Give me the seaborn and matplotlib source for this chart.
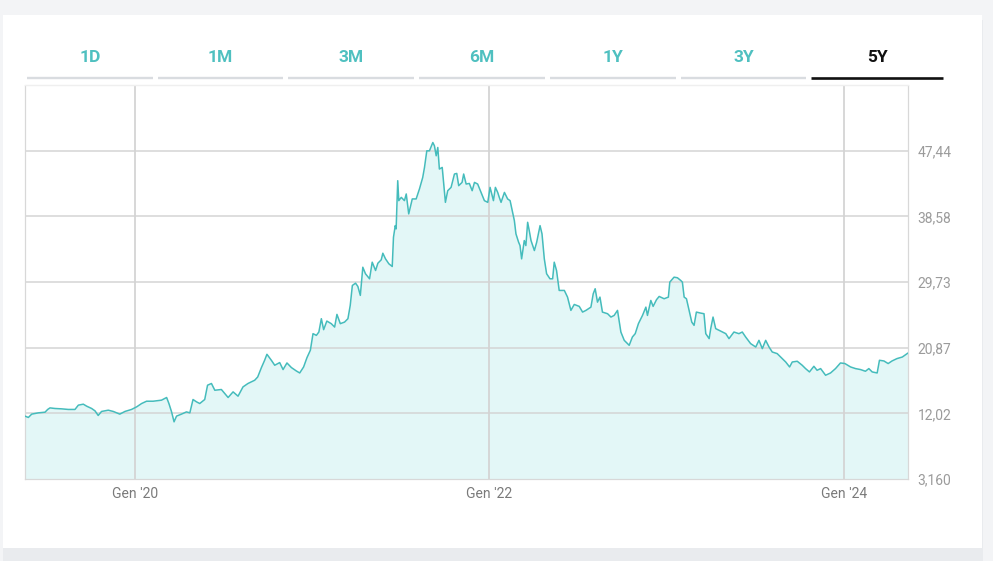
import numpy as np
import pandas as pd
import matplotlib
matplotlib.use("Agg")
import matplotlib.pyplot as plt
import seaborn as sns
from matplotlib.patches import Rectangle
from matplotlib.lines import Line2D

# ---------------- data (decimal years, price) ----------------
years = [
    2019.380, 2019.399, 2019.418, 2019.455, 2019.493, 2019.508, 2019.521, 2019.549, 2019.587, 2019.624,
    2019.662, 2019.681, 2019.709, 2019.728, 2019.756, 2019.775, 2019.793, 2019.812, 2019.850, 2019.878,
    2019.915, 2019.944, 2019.981, 2020.010, 2020.038, 2020.066, 2020.103, 2020.150, 2020.179, 2020.192,
    2020.207, 2020.221, 2020.235, 2020.263, 2020.291, 2020.310, 2020.328, 2020.348, 2020.366, 2020.394,
    2020.410, 2020.432, 2020.451, 2020.488, 2020.526, 2020.554, 2020.582, 2020.610, 2020.638, 2020.676,
    2020.693, 2020.714, 2020.732, 2020.745, 2020.770, 2020.789, 2020.817, 2020.836, 2020.858, 2020.883,
    2020.911, 2020.930, 2020.952, 2020.971, 2020.990, 2021.005, 2021.024, 2021.038, 2021.052, 2021.065,
    2021.083, 2021.108, 2021.127, 2021.140, 2021.159, 2021.183, 2021.202, 2021.215, 2021.227, 2021.245,
    2021.258, 2021.272, 2021.286, 2021.301, 2021.324, 2021.339, 2021.358, 2021.371, 2021.390, 2021.399,
    2021.414, 2021.433, 2021.452, 2021.459, 2021.469, 2021.474, 2021.483, 2021.489, 2021.503, 2021.521,
    2021.531, 2021.545, 2021.565, 2021.587, 2021.606, 2021.624, 2021.634, 2021.647, 2021.662, 2021.681,
    2021.690, 2021.700, 2021.709, 2021.718, 2021.734, 2021.741, 2021.752, 2021.765, 2021.784, 2021.803,
    2021.816, 2021.827, 2021.846, 2021.855, 2021.869, 2021.887, 2021.903, 2021.916, 2021.934, 2021.953,
    2021.972, 2021.991, 2022.004, 2022.023, 2022.034, 2022.047, 2022.056, 2022.066, 2022.085, 2022.103,
    2022.117, 2022.131, 2022.141, 2022.150, 2022.165, 2022.173, 2022.182, 2022.197, 2022.206, 2022.216,
    2022.225, 2022.235, 2022.254, 2022.267, 2022.286, 2022.297, 2022.310, 2022.323, 2022.342, 2022.357,
    2022.366, 2022.379, 2022.394, 2022.423, 2022.441, 2022.460, 2022.479, 2022.507, 2022.526, 2022.545,
    2022.573, 2022.586, 2022.597, 2022.610, 2022.624, 2022.638, 2022.667, 2022.686, 2022.704, 2022.723,
    2022.732, 2022.742, 2022.761, 2022.789, 2022.807, 2022.823, 2022.841, 2022.864, 2022.883, 2022.892,
    2022.911, 2022.924, 2022.943, 2022.958, 2022.986, 2023.010, 2023.018, 2023.042, 2023.061, 2023.080,
    2023.089, 2023.099, 2023.112, 2023.127, 2023.142, 2023.155, 2023.168, 2023.193, 2023.211, 2023.221,
    2023.240, 2023.249, 2023.262, 2023.277, 2023.296, 2023.315, 2023.334, 2023.352, 2023.380, 2023.408,
    2023.427, 2023.446, 2023.474, 2023.503, 2023.521, 2023.540, 2023.559, 2023.578, 2023.596, 2023.624,
    2023.652, 2023.672, 2023.694, 2023.709, 2023.737, 2023.765, 2023.784, 2023.806, 2023.831, 2023.849,
    2023.869, 2023.897, 2023.925, 2023.953, 2023.981, 2024.006, 2024.038, 2024.066, 2024.094, 2024.122,
    2024.141, 2024.160, 2024.188, 2024.201, 2024.226, 2024.250, 2024.272, 2024.300, 2024.330, 2024.362,
]
prices = [
    11.64, 11.46, 11.91, 12.08, 12.17, 12.54, 12.75, 12.67, 12.62, 12.54,
    12.54, 13.12, 13.25, 12.98, 12.67, 12.35, 11.73, 12.27, 12.44, 12.27,
    11.91, 12.27, 12.54, 12.89, 13.34, 13.65, 13.65, 13.79, 14.15, 13.34,
    12.21, 10.87, 11.64, 11.91, 12.21, 12.08, 13.88, 13.56, 13.34, 13.88,
    15.81, 16.04, 15.13, 15.23, 14.15, 14.91, 14.33, 15.58, 16.04, 16.48,
    16.92, 18.19, 19.17, 19.98, 19.17, 18.50, 18.86, 17.92, 18.81, 18.19,
    17.73, 17.46, 18.27, 19.53, 20.52, 22.76, 22.53, 22.98, 24.78, 23.30,
    24.46, 24.11, 23.65, 25.36, 24.11, 24.32, 24.78, 26.57, 29.26, 29.57,
    29.13, 27.92, 31.72, 30.84, 30.16, 32.40, 31.28, 32.26, 32.72, 33.61,
    32.85, 32.18, 31.82, 35.76, 37.33, 36.89, 43.39, 40.70, 41.14, 40.70,
    41.60, 38.91, 40.93, 40.93, 42.31, 43.83, 45.18, 47.42, 47.42, 48.54,
    48.10, 46.75, 47.87, 44.96, 45.18, 43.39, 40.47, 42.04, 42.49, 44.29,
    44.37, 42.72, 43.16, 44.29, 42.94, 43.02, 42.04, 43.16, 42.94, 41.81,
    40.70, 40.47, 42.49, 40.70, 42.49, 41.81, 41.14, 40.47, 41.81, 40.93,
    40.70, 39.12, 38.01, 36.22, 35.09, 34.64, 32.85, 35.32, 34.64, 37.78,
    36.66, 35.32, 33.97, 35.09, 37.33, 36.22, 32.85, 30.84, 30.16, 30.16,
    32.40, 31.28, 28.59, 28.59, 27.69, 25.90, 26.70, 26.44, 25.67, 25.90,
    26.34, 28.14, 28.82, 27.01, 27.69, 25.67, 25.45, 25.00, 25.22, 25.90,
    24.55, 22.98, 21.86, 21.19, 22.31, 22.76, 24.11, 25.22, 26.34, 25.22,
    27.24, 26.44, 27.34, 27.78, 27.47, 27.69, 29.71, 30.38, 30.30, 29.93,
    29.71, 27.69, 27.47, 25.90, 24.32, 23.88, 25.67, 25.53, 25.45, 22.76,
    22.09, 23.44, 25.00, 23.44, 23.21, 22.98, 22.76, 22.09, 22.98, 22.76,
    22.98, 22.31, 21.42, 20.96, 21.86, 20.74, 21.86, 20.96, 20.29, 20.07,
    19.40, 18.94, 18.27, 18.94, 19.04, 18.50, 18.05, 17.60, 18.36, 17.82,
    18.05, 17.15, 17.46, 18.05, 18.81, 18.73, 18.27, 18.05, 17.92, 17.69,
    18.05, 17.60, 17.46, 19.17, 19.08, 18.73, 19.08, 19.40, 19.61, 20.15,
]
tab_labels = ["1D", "1M", "3M", "6M", "1Y", "3Y", "5Y"]
active_tab = "5Y"
y_ticks = [3.160, 12.02, 20.87, 29.73, 38.58, 47.44]
y_tick_labels = ["3,160", "12,02", "20,87", "29,73", "38,58", "47,44"]
x_ticks = [2020, 2022, 2024]
x_tick_labels = ["Gen '20", "Gen '22", "Gen '24"]

# ---------------- style ----------------
LINE = "#45bcbc"
FILL = "#e3f7f7"
TEAL_TXT = "#4fc0c0"
GRID = "#d4d4d4"

sns.set_style("white")
plt.rcParams['font.family'] = ['Roboto', 'DejaVu Sans']

W, H = 993, 561
fig = plt.figure(figsize=(W / 100, H / 100), dpi=100, facecolor="#f3f4f6")


def fx(x):
    return x / W


def fy(y):
    return 1 - y / H


# card shadow + card (behind the axes)
fig.patches.append(Rectangle((fx(3), fy(561)), fx(980), (561 - 20) / H,
                             transform=fig.transFigure, facecolor="#e9ebee",
                             edgecolor="none", zorder=-3))
fig.patches.append(Rectangle((fx(3), fy(548)), fx(979), (548 - 15) / H,
                             transform=fig.transFigure, facecolor="white",
                             edgecolor="none", zorder=-2))

# tabs
tab_left = [27, 158, 288, 419, 550, 681, 811]
tab_right = [153, 283, 414, 545, 676, 806, 943]
for lab, l, r in zip(tab_labels, tab_left, tab_right):
    active = lab == active_tab
    fig.add_artist(Line2D([fx(l), fx(r)], [fy(77.8), fy(77.8)], transform=fig.transFigure,
                          color="#111111" if active else "#d9dce0",
                          lw=1.9 if active else 1.7, solid_capstyle="butt"))
    fig.text(fx((l + r) / 2), fy(57), lab, ha="center", va="center",
             fontsize=12.5, fontweight="bold",
             color="#111111" if active else TEAL_TXT)

# plot
ax = fig.add_axes([fx(25), fy(479), (908 - 25) / W, (479 - 85) / H])
ax.set_facecolor("none")
df = pd.DataFrame({"year": years, "price": prices})
ymin, ymax = 3.16, 3.16 + 6 * 8.856
ax.fill_between(df["year"], df["price"], ymin, color=FILL, linewidth=0, zorder=1)
sns.lineplot(data=df, x="year", y="price", ax=ax, color=LINE, linewidth=1.1, zorder=3)

ax.set_xlim(years[0], years[-1])
ax.set_ylim(ymin, ymax)

for yv in y_ticks[1:]:
    ax.axhline(yv, color=GRID, lw=1.1, zorder=2)
for xv in x_ticks:
    ax.axvline(xv, color=GRID, lw=1.3, zorder=2)

ax.yaxis.tick_right()
ax.set_yticks(y_ticks)
ax.set_yticklabels(y_tick_labels)
ax.set_xticks(x_ticks)
ax.set_xticklabels(x_tick_labels)
ax.tick_params(axis="y", length=0, pad=7, labelsize=10, labelcolor="#9b9b9b")
ax.tick_params(axis="x", length=0, pad=6, labelsize=10, labelcolor="#7a7a7a")
ax.set_xlabel("")
ax.set_ylabel("")

for side in ["left", "right", "bottom"]:
    ax.spines[side].set_visible(True)
    ax.spines[side].set_color("#d8d8d8")
    ax.spines[side].set_linestyle((0, (1, 1)))
    ax.spines[side].set_linewidth(0.9)
ax.spines["top"].set_color("#efefef")
ax.spines["top"].set_linewidth(1.0)

fig.savefig("out.png", dpi=100, facecolor=fig.get_facecolor())
